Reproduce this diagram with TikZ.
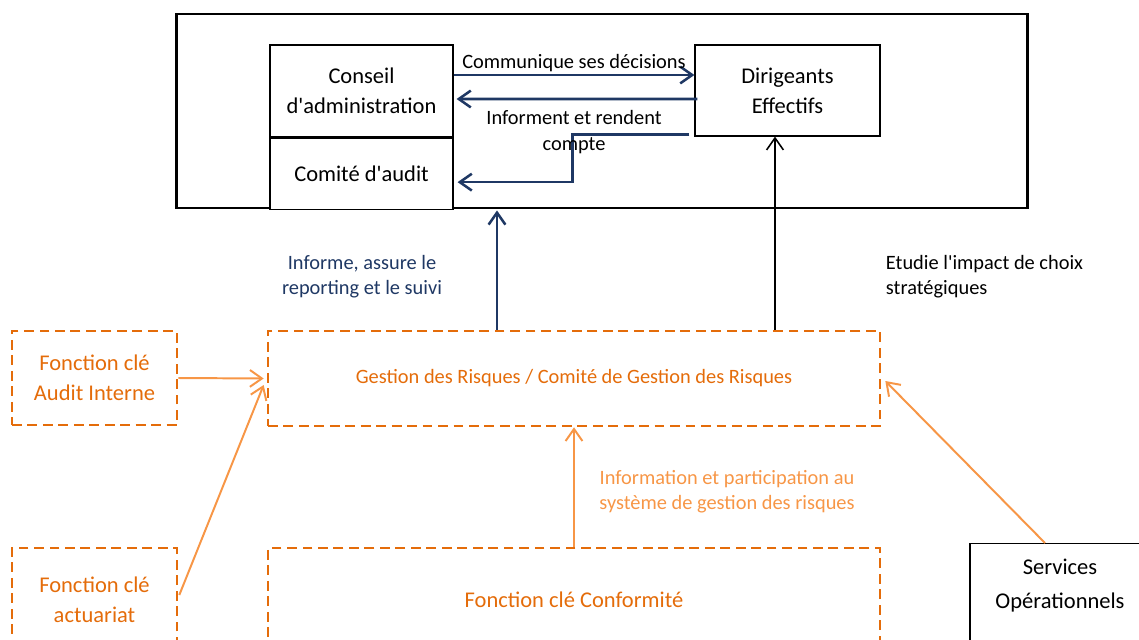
\documentclass[tikz,border=0pt]{standalone}
\usepackage{fontspec}
\setmainfont{Carlito}
\usepackage{xcolor}
\usepackage{tikz}
\usetikzlibrary{positioning,arrows.meta,calc}

\definecolor{navy}{RGB}{31,56,100}
\definecolor{orgdark}{RGB}{228,108,10}
\definecolor{orglight}{RGB}{247,150,70}
\newcommand{\apos}{\textquotesingle}

\begin{document}
\begin{tikzpicture}[x=0.025cm, y=-0.025cm,
  font=\fontsize{16}{21.5}\selectfont,
  inbox/.style={draw, line width=0.8pt, fill=white, align=center, inner sep=0pt},
  keybox/.style={draw=orgdark, line width=1.8pt, dash pattern=on 7pt off 4pt, text=orgdark, align=center, inner sep=0pt},
  lbl/.style={font=\fontsize{14.5}{18}\selectfont, align=center},
  bluearr/.style={->, draw=navy, line width=1.8pt},
  blackarr/.style={->, draw=black, line width=1.1pt},
  orgarr/.style={->, draw=orglight, line width=1.4pt},
  >={Straight Barb[length=3mm, width=4.2mm]}]
\useasboundingbox (0,0) rectangle (1139,639);
\clip (0,0) rectangle (1139,639);

% bloc gouvernance
\node[draw, line width=2pt, minimum width=21.25cm, minimum height=4.85cm] (board) at (602,111) {};
\node[inbox, minimum width=4.575cm, minimum height=2.3cm] (conseil) at (361.5,91) {Conseil\\d\apos administration};
\node[inbox, minimum width=4.575cm, minimum height=1.775cm, below=0pt of conseil] (audit) {Comit\'e d\apos audit};
\node[inbox, minimum width=4.625cm, minimum height=2.275cm] (dirig) at (787.5,90.5) {Dirigeants\\Effectifs};

\draw[bluearr] ($(conseil.east)+(0,-16)$) -- ($(dirig.west)+(0,-15.5)$);
\node[lbl] (comm) at (574,63) {Communique ses d\'ecisions};
\draw[bluearr] ($(dirig.west)+(3,8.5)$) -- ($(conseil.east)+(3,8)$);
\draw[bluearr] ($(dirig.south west)+(-5,-2)$) -- ++(-117,0) |- ($(audit.east)+(4,8.5)$);
\node[lbl] (inform) at (574,132) {Informent et rendent\\compte};

% fonctions cles
\node[keybox, minimum width=15.3cm, minimum height=2.375cm] (gr) at (574,378.5)
  {\fontsize{14.5}{18}\selectfont Gestion des Risques / Comit\'e de Gestion des Risques};
\node[keybox, minimum width=4.125cm, minimum height=2.35cm] (audint) at (94.5,378) {Fonction cl\'e\\Audit Interne};
\node[keybox, minimum width=4.125cm, minimum height=2.6cm] (actu) at (94.5,600) {Fonction cl\'e\\actuariat};
\node[keybox, minimum width=15.3cm, minimum height=2.6cm] (conf) at (574,600) {Fonction cl\'e Conformit\'e};
\node[inbox, minimum width=4.5cm, anchor=north, inner ysep=11pt] (serv) at (1060,543)
  {Services\\[2.5pt]Op\'erationnels\\[40pt]\mbox{}};

\draw[bluearr] ($(gr.north)+(-77,0)$) -- ($(board.south)+(-105,1)$);
\node[lbl, text=navy] (report) at (362,277) {Informe, assure le\\reporting et le suivi};
\draw[blackarr] ($(gr.north)+(201,0)$) -- ($(dirig.south)+(-12.5,0)$);
\node[lbl, align=left, anchor=west] (impact) at (881,277) {Etudie l\apos impact de choix\\strat\'egiques};

\draw[orgarr] (audint.east) -- ($(gr.west)+(-3,0)$);
\draw[orgarr] ($(actu.east)+(1,-5)$) -- ($(gr.west)+(-3,6.5)$);
\draw[orgarr] (conf.north) -- (gr.south);
\node[lbl, text=orglight] (particip) at (727,492) {Information et participation au\\syst\`eme de gestion des risques};
\draw[orgarr] ($(serv.north)+(-15,0)$) -- ($(gr.east)+(4,2.5)$);
\end{tikzpicture}
\end{document}
